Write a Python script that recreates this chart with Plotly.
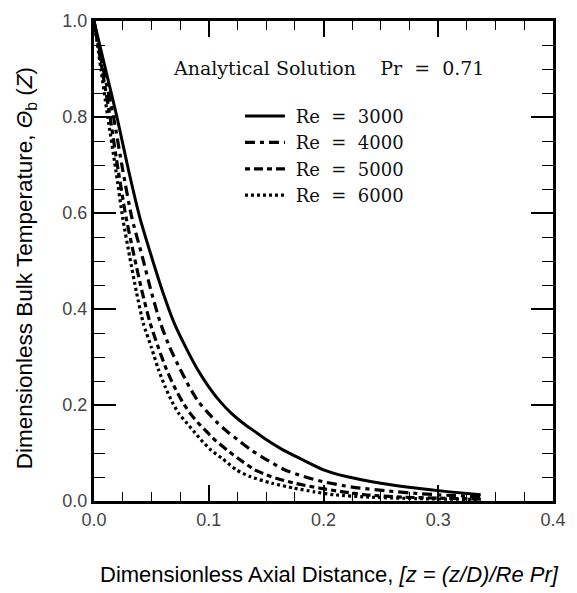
import plotly.graph_objects as go

# ---- data ----
x_re3000 = [0, 0.005, 0.010, 0.020, 0.030, 0.040, 0.050, 0.060, 0.070, 0.080, 0.090, 0.100,
            0.110, 0.120, 0.130, 0.140, 0.150, 0.165, 0.180, 0.200, 0.220, 0.250, 0.280, 0.310, 0.337]
y_re3000 = [1.000, 0.950, 0.900, 0.800, 0.690, 0.590, 0.510, 0.435, 0.370, 0.320, 0.275, 0.238,
            0.207, 0.182, 0.162, 0.145, 0.128, 0.106, 0.088, 0.065, 0.051, 0.037, 0.027, 0.019, 0.013]

x_re4000 = [0, 0.004, 0.008, 0.017, 0.025, 0.033, 0.042, 0.050, 0.058, 0.066, 0.075, 0.083, 0.091,
            0.100, 0.108, 0.116, 0.125, 0.137, 0.149, 0.166, 0.183, 0.200, 0.225, 0.255, 0.285, 0.315, 0.337]
y_re4000 = [1.000, 0.950, 0.900, 0.800, 0.690, 0.590, 0.510, 0.435, 0.370, 0.320, 0.275, 0.238, 0.207,
            0.182, 0.162, 0.145, 0.128, 0.106, 0.088, 0.065, 0.051, 0.040, 0.029, 0.021, 0.015, 0.011, 0.009]

x_re5000 = [0, 0.0035, 0.007, 0.014, 0.021, 0.028, 0.035, 0.042, 0.049, 0.056, 0.063, 0.070, 0.077,
            0.084, 0.091, 0.098, 0.105, 0.116, 0.126, 0.140, 0.154, 0.175, 0.196, 0.217, 0.236, 0.270, 0.300, 0.337]
y_re5000 = [1.000, 0.950, 0.900, 0.800, 0.690, 0.590, 0.510, 0.435, 0.370, 0.320, 0.275, 0.238, 0.207,
            0.182, 0.162, 0.145, 0.128, 0.106, 0.088, 0.065, 0.051, 0.037, 0.027, 0.019, 0.013, 0.008, 0.006, 0.004]

x_re6000 = [0, 0.003, 0.006, 0.012, 0.019, 0.025, 0.031, 0.037, 0.043, 0.050, 0.056, 0.062, 0.068,
            0.074, 0.081, 0.087, 0.093, 0.102, 0.112, 0.124, 0.136, 0.155, 0.174, 0.192, 0.209, 0.240, 0.280, 0.337]
y_re6000 = [1.000, 0.950, 0.900, 0.800, 0.690, 0.590, 0.510, 0.435, 0.370, 0.320, 0.275, 0.238, 0.207,
            0.182, 0.162, 0.145, 0.128, 0.106, 0.088, 0.065, 0.051, 0.037, 0.027, 0.019, 0.013, 0.008, 0.005, 0.003]

series_names = ["\u00a0Re\u00a0\u00a0=\u00a0\u00a03000", "\u00a0Re\u00a0\u00a0=\u00a0\u00a04000",
                "\u00a0Re\u00a0\u00a0=\u00a0\u00a05000", "\u00a0Re\u00a0\u00a0=\u00a0\u00a06000"]
x_ticks = [0.0, 0.1, 0.2, 0.3, 0.4]
y_ticks = [0.0, 0.2, 0.4, 0.6, 0.8, 1.0]

xs = [x_re3000, x_re4000, x_re5000, x_re6000]
ys = [y_re3000, y_re4000, y_re5000, y_re6000]
dashes = ["solid", "10px,5px,4px,5px", "5px,4px,9px,4px", "3px,3px"]
widths = [3, 3.2, 3.2, 3.2]

fig = go.Figure()
for xv, yv, nm, ds, w in zip(xs, ys, series_names, dashes, widths):
    fig.add_trace(go.Scatter(x=xv, y=yv, mode="lines", name=nm,
                             line=dict(color="black", width=w, dash=ds, shape="spline", smoothing=0.6)))

tickfont = dict(family="Liberation Sans, Arial, sans-serif", size=18, color="#444")
axis_common = dict(showline=True, mirror="ticks", linecolor="black", linewidth=3,
                   ticks="inside", tickcolor="black", tickwidth=1.5,
                   showgrid=False, zeroline=False, tickfont=tickfont, tickformat=".1f")

fig.update_xaxes(range=[0, 0.4], tickvals=x_ticks, ticklen=16,
                 minor=dict(dtick=0.025, ticks="inside", ticklen=9, tickcolor="black", tickwidth=1.2),
                 **axis_common)
fig.update_yaxes(range=[0, 1.0], tickvals=y_ticks, ticklen=22,
                 minor=dict(dtick=0.05, ticks="inside", ticklen=11, tickcolor="black", tickwidth=1.2),
                 **axis_common)

fig.update_layout(
    width=577, height=593,
    margin=dict(l=94, r=11, t=21, b=92),
    paper_bgcolor="white", plot_bgcolor="white",
    showlegend=True,
    legend=dict(x=0.318, y=0.84, xanchor="left", yanchor="top",
                font=dict(family="DejaVu Serif, serif", size=18, color="#111"),
                bgcolor="rgba(0,0,0,0)", borderwidth=0, tracegroupgap=0, itemwidth=40),
    annotations=[
        dict(text="Analytical Solution\u00a0\u00a0\u00a0\u00a0Pr\u00a0\u00a0=\u00a0\u00a00.71",
             xref="paper", yref="paper", x=0.51, y=0.902, xanchor="center", yanchor="middle",
             showarrow=False, font=dict(family="DejaVu Serif, serif", size=19, color="#111")),
        dict(text="Dimensionless Axial Distance, <i>[z = (z/D)/Re Pr]</i>",
             xref="paper", yref="paper", x=0.512, y=-0.154, xanchor="center", yanchor="middle",
             showarrow=False, font=dict(family="Liberation Sans, Arial, sans-serif", size=22, color="black")),
        dict(text="Dimensionless Bulk Temperature, <i>\u0398</i><sub>b</sub> (<i>Z</i>)",
             xref="paper", yref="paper", x=-0.148, y=0.485, xanchor="center", yanchor="middle",
             textangle=-90, showarrow=False,
             font=dict(family="Liberation Sans, Arial, sans-serif", size=22.5, color="black")),
    ],
)

fig.write_html("out.html", config={"displayModeBar": False},
               post_script="document.body.style.margin='0';document.body.style.overflow='hidden';")
